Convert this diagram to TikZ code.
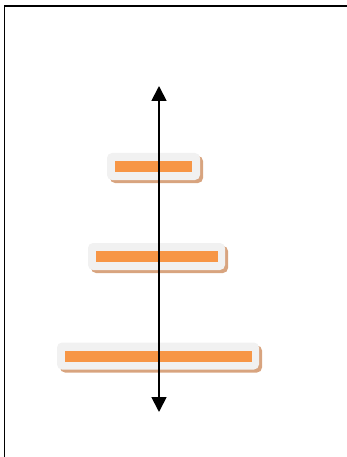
\documentclass[tikz,border=0pt]{standalone}
\usetikzlibrary{arrows.meta}
\definecolor{panelgrey}{HTML}{F1F1F1}
\definecolor{shadowtan}{HTML}{D8A47F}
\definecolor{barorange}{HTML}{F79646}
\tikzset{
  panel/.style={draw=none, fill=panelgrey, rounded corners=5pt, inner sep=0pt,
    minimum height=27pt},
  panelshadow/.style={draw=none, fill=shadowtan, rounded corners=5pt, inner sep=0pt,
    minimum height=27pt},
  bar/.style={draw=none, fill=barorange, inner sep=0pt, minimum height=11pt},
}
\begin{document}
\begin{tikzpicture}[x=1pt,y=-1pt]
  \useasboundingbox (0,0) rectangle (347,457);
  \begin{scope}
    \clip (0,0) rectangle (347,457);
    % outer frame, running off the right and bottom edges
    \draw[line width=1.6pt] (4.5,6) rectangle (360,470);
  \end{scope}

  % top panel
  \node[panelshadow, minimum width=93pt] (s1) at (156.5,169.5) {};
  \node[panel, minimum width=93pt] (p1) at (153.5,166.5) {};
  \node[bar, minimum width=77pt] (b1) at (p1.center) {};

  % middle panel
  \node[panelshadow, minimum width=137pt] (s2) at (159.5,259.5) {};
  \node[panel, minimum width=137pt] (p2) at (156.5,256.5) {};
  \node[bar, minimum width=122pt] (b2) at (p2.center) {};

  % bottom panel
  \node[panelshadow, minimum width=202pt] (s3) at (161,359) {};
  \node[panel, minimum width=202pt] (p3) at (158,356) {};
  \node[bar, minimum width=187pt] (b3) at (p3.center) {};

  % double-headed vertical axis
  \coordinate (top) at (159,86);
  \coordinate (bottom) at (159,412);
  \draw[line width=1.8pt, {Triangle[length=15pt,width=15pt]}-{Triangle[length=15pt,width=15pt]}]
    (top) -- (bottom);
\end{tikzpicture}
\end{document}
